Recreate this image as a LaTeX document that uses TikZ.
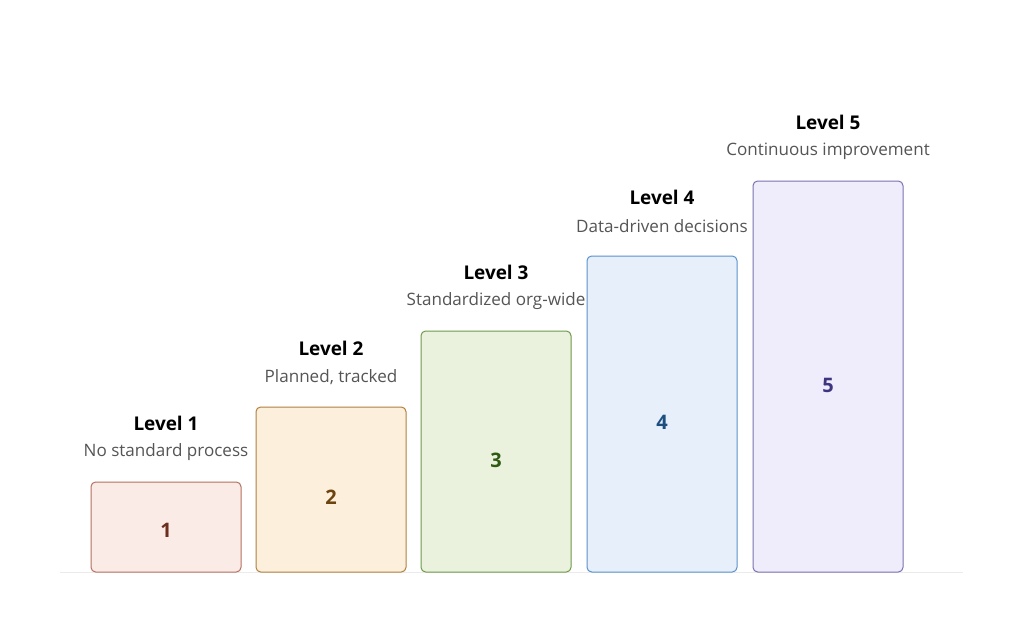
\documentclass[tikz,border=0pt]{standalone}
\usepackage{fontspec}
\setmainfont{Open Sans}
\definecolor{f1}{HTML}{FAEBE6}\definecolor{d1}{HTML}{B57060}\definecolor{t1}{HTML}{6B2E1F}
\definecolor{f2}{HTML}{FCEFDB}\definecolor{d2}{HTML}{B08040}\definecolor{t2}{HTML}{6B4410}
\definecolor{f3}{HTML}{EAF2DE}\definecolor{d3}{HTML}{6E9A4A}\definecolor{t3}{HTML}{2E5A12}
\definecolor{f4}{HTML}{E6EFFA}\definecolor{d4}{HTML}{5A92CC}\definecolor{t4}{HTML}{1C4E80}
\definecolor{f5}{HTML}{EFEDFC}\definecolor{d5}{HTML}{7A72B0}\definecolor{t5}{HTML}{3D3580}
\definecolor{subgray}{HTML}{555555}
\definecolor{basegray}{HTML}{EBEBEB}
\begin{document}
\begin{tikzpicture}[x=0.75pt,y=-0.75pt,
  bar/.style={rounded corners=3.5pt, line width=0.75pt},
  num/.style={font=\fontsize{15}{18}\selectfont\bfseries},
  title/.style={font=\fontsize{14.2}{17}\selectfont\bfseries, text=black},
  sub/.style={font=\fontsize{12.8}{15}\selectfont, text=subgray}]
\useasboundingbox[fill=white] (0,0) rectangle (1024,632);
\draw[draw=basegray, line width=0.75pt] (60,572) -- (963,572);
\foreach \i/\xa/\ya/\yn/\tt/\st in {1/91/482/530/Level 1/No standard process,
  2/256/407/497/Level 2/{Planned, tracked},
  3/421/331/460/Level 3/Standardized org-wide,
  4/587/256/422/Level 4/Data-driven decisions,
  5/753/181/385/Level 5/Continuous improvement}{
  \pgfmathsetmacro{\xb}{\xa+150}
  \pgfmathsetmacro{\xm}{\xa+75}
  \draw[bar, fill=f\i, draw=d\i] (\xa,\ya) rectangle (\xb,572);
  \node[num, text=t\i] (n\i) at (\xm,\yn) {\i};
  \node[title] (l\i) at (\xm,\ya-59) {\tt};
  \node[sub] (s\i) at (\xm,\ya-30) {\st};
}
\end{tikzpicture}
\end{document}
